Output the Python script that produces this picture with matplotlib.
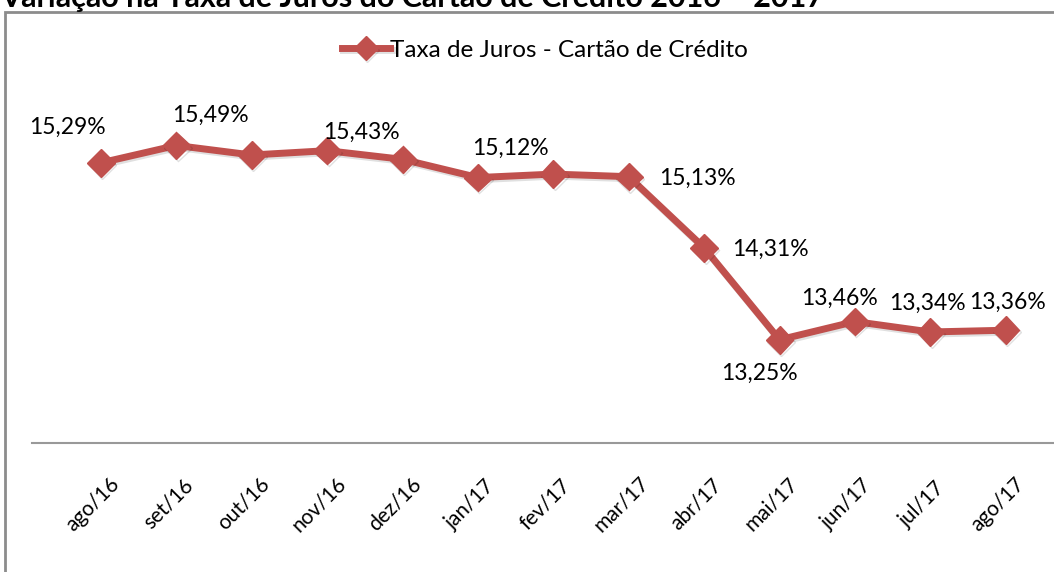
import matplotlib.pyplot as plt
import matplotlib.patheffects as pe
from matplotlib.patches import Rectangle

plt.rcParams['font.family'] = ['Lato', 'DejaVu Sans']

# dados
meses = ["ago/16", "set/16", "out/16", "nov/16", "dez/16", "jan/17", "fev/17",
         "mar/17", "abr/17", "mai/17", "jun/17", "jul/17", "ago/17"]
taxa = [15.29, 15.49, 15.38, 15.43, 15.33, 15.12, 15.16,
        15.13, 14.31, 13.25, 13.46, 13.34, 13.36]
# rótulos exibidos e deslocamento em pixels
rotulos = [True, True, False, True, False, True, False,
           True, True, True, True, True, True]
desloc = [(-34, 35), (34, 30), None, (34, 18), None, (32, 29), None,
          (69, -2), (66, -2), (-20, -34), (-15, 23), (-3, 29), (2, 28)]

COR = "#C0504D"
W, H = 1054, 572

fig = plt.figure(figsize=(W / 100, H / 100), dpi=100)
ax = fig.add_axes([32 / W, (H - 443) / H, (W - 32) / W, (443 - 96) / H])

x = list(range(len(meses)))
ax.plot(x, taxa, color=COR, lw=5, marker="D", ms=14, mec=COR, mfc=COR,
        label="Taxa de Juros - Cartão de Crédito", solid_joinstyle="round",
        path_effects=[pe.SimpleLineShadow(offset=(1, -1.5), alpha=0.12), pe.Normal()])

for i, v in enumerate(taxa):
    if not rotulos[i]:
        continue
    dx, dy = desloc[i]
    ax.annotate(f"{v:.2f}%".replace(".", ","), (i, v), xytext=(dx * 0.72, dy * 0.72),
                textcoords="offset points", ha="center", va="center", fontsize=16.5)

ax.set_xlim(-0.915, 12.64)
ax.set_ylim(12.06, 16.06)
ax.set_xticks(x)
ax.set_xticklabels([])
# rótulos do eixo x inclinados, centrados um pouco à esquerda do ponto
for i, mes in enumerate(meses):
    ax.annotate(mes, (i, 0), xycoords=("data", "axes fraction"),
                xytext=(-8 * 0.72, -61 * 0.72), textcoords="offset points",
                rotation=45, ha="center", va="center", fontsize=15)
ax.tick_params(axis="x", length=0)
ax.set_yticks([])
for s in ["top", "right", "left"]:
    ax.spines[s].set_visible(False)
ax.spines["bottom"].set_color("#999999")
ax.spines["bottom"].set_linewidth(1.5)

leg = fig.legend(loc="center", bbox_to_anchor=(545 / W, 1 - 50 / H), frameon=False,
                 fontsize=17.5, handlelength=2.0, handletextpad=0.0, markerscale=0.85)

# borda do gráfico
fig.patches.append(Rectangle((5 / W, -0.1), 1.2, 1 - 12 / H + 0.1, transform=fig.transFigure,
                             fill=False, edgecolor="#8c8c8c", lw=2))

fig.text(0, 1 + 2 / H, "Variação na Taxa de Juros do Cartão de Crédito 2016 – 2017",
         ha="left", va="center", fontsize=22, fontweight="bold")

fig.savefig("out.png", dpi=100)
